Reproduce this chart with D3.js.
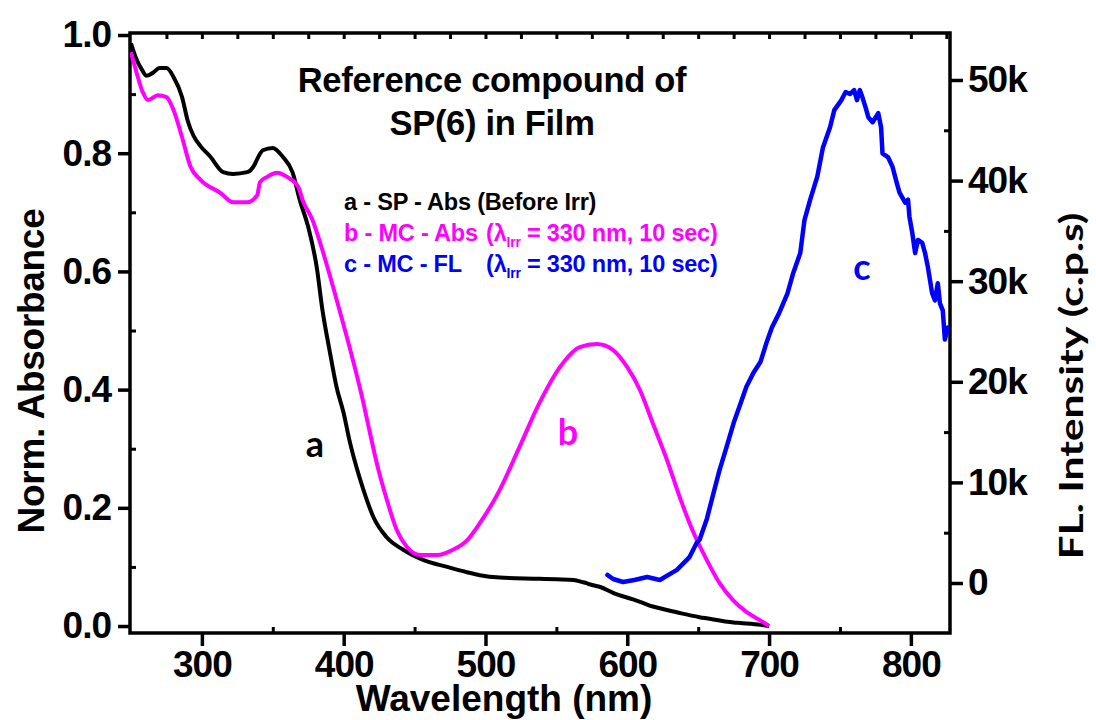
<!DOCTYPE html>
<html>
<head>
<meta charset="utf-8">
<script src="https://cdn.jsdelivr.net/npm/d3@7/dist/d3.min.js"></script>
<style>
  html, body { margin: 0; padding: 0; background: #fff; }
  svg { display: block; }
  .lab { font-family: "Liberation Sans", Arial, sans-serif; font-weight: bold; }
  .cal { font-family: Lato, "Open Sans", sans-serif; font-weight: 700; }
</style>
</head>
<body>
<svg id="chart" width="1096" height="720"></svg>
<script>
// ---- Data ----
// a - SP - Abs (Before Irr)
const aWavelength = [250,254,258,261,266,270,275,280,286,290,294,299,306,315,322,332,337,339,343,350,357,364,369,375,381,385,390,395,400,404,409,414,421,430,442,456,473,487,496,510,538,550,562,569,576,581,590,604,609,618,623,637,651,656,675,680,694,700];
const aAbs = [0.986,0.958,0.940,0.931,0.937,0.944,0.944,0.929,0.895,0.855,0.830,0.812,0.794,0.768,0.765,0.768,0.780,0.790,0.805,0.809,0.794,0.767,0.721,0.675,0.607,0.535,0.467,0.404,0.360,0.315,0.269,0.230,0.184,0.151,0.129,0.112,0.100,0.091,0.086,0.082,0.080,0.079,0.078,0.074,0.069,0.066,0.056,0.045,0.041,0.033,0.030,0.022,0.015,0.013,0.006,0.005,0.002,0.000];

// b - MC - Abs (λirr = 330 nm, 10 sec)
const bWavelength = [250,254,258.5,262,269,275,280,286,292,299,313,322,332,339,341,346,353,360,368,371,378,385,392.5,399.5,406.5,413,418.5,424,430.5,437.5,444.5,454,466,477,487,496,510,524,538,552.5,566.5,578.5,590,600,609,618,628,637,646,656,665,674.5,684,693.5,700];
const bAbs = [0.971,0.936,0.902,0.890,0.898,0.895,0.873,0.827,0.777,0.755,0.733,0.717,0.717,0.729,0.751,0.760,0.767,0.760,0.743,0.721,0.687,0.636,0.574,0.513,0.450,0.387,0.327,0.269,0.213,0.162,0.134,0.120,0.120,0.129,0.145,0.174,0.230,0.303,0.377,0.438,0.472,0.477,0.467,0.438,0.399,0.343,0.281,0.218,0.162,0.112,0.073,0.044,0.024,0.010,0.000];

// c - MC - FL (λirr = 330 nm, 10 sec), c.p.s
const cWavelength = [586,590,597,605,614,623,635,642,644,649,651,656,660,665,670,675,680,684,689,694,698,702,707,713,717,722,725,729,734,738,743,746,751,754,757,760,762,764,766,768,770,773,777,779,780,784,787,790,792,796,798,799,801,803,805,808,810,812,815,817,819,820.5,822.5,824,826];
const cIntensity = [800,400,100,300,600,300,1300,2300,2600,4000,4300,6300,8500,11200,13500,15900,17900,19500,20900,22000,23800,25400,26800,28800,30800,32800,36100,38100,40400,43300,45300,47000,48000,48800,48600,49000,48000,49000,48200,47300,46300,45800,46700,45300,42700,42300,41400,39800,38800,37800,38100,36400,34800,32800,34100,33800,32800,31400,28800,28100,29800,27800,27100,24200,25400];

const xTicks = [300,400,500,600,700,800];
const xTickLabels = ["300","400","500","600","700","800"];
const yLeftTicks = [0,0.2,0.4,0.6,0.8,1.0];
const yLeftTickLabels = ["0.0","0.2","0.4","0.6","0.8","1.0"];
const yRightTicks = [0,10000,20000,30000,40000,50000];
const yRightTickLabels = ["0","10k","20k","30k","40k","50k"];

const titleLines = ["Reference compound of","SP(6) in Film"];

// ---- Layout ----
const svg = d3.select("#chart");
const L = 130, R = 950, T = 33, B = 633;

const x = d3.scaleLinear().domain([249.3, 827.6]).range([L, R]);
const yL = d3.scaleLinear().domain([-0.0118, 1.0034]).range([B, T]);
const yR = d3.scaleLinear().domain([-4970, 54670]).range([B, T]);

svg.append("rect").attr("width",1096).attr("height",720).attr("fill","#fff");

function styleAxis(g, w) {
  g.select(".domain").remove();
  g.selectAll(".tick line").attr("stroke","#000").attr("stroke-width", w);
}

// minor ticks (inward)
const gxm = svg.append("g").attr("transform",`translate(0,${B})`)
  .call(d3.axisBottom(x).tickValues([350,450,550,650,750]).tickSize(-6).tickFormat(""));
styleAxis(gxm, 3);
const gxt = svg.append("g").attr("transform",`translate(0,${T})`)
  .call(d3.axisTop(x).tickValues(d3.range(275, 826, 25)).tickSize(-6).tickFormat(""));
styleAxis(gxt, 3);
const gylm = svg.append("g").attr("transform",`translate(${L},0)`)
  .call(d3.axisLeft(yL).tickValues([0.1,0.3,0.5,0.7,0.9]).tickSize(-6).tickFormat(""));
styleAxis(gylm, 3);
const gyrm = svg.append("g").attr("transform",`translate(${R},0)`)
  .call(d3.axisRight(yR).tickValues([5000,15000,25000,35000,45000]).tickSize(-6).tickFormat(""));
styleAxis(gyrm, 3);

// major axes
const gx = svg.append("g").attr("transform",`translate(0,${B})`)
  .call(d3.axisBottom(x).tickValues(xTicks).tickSize(13).tickPadding(4).tickFormat((d,i)=>xTickLabels[i]));
styleAxis(gx, 3.5);
gx.selectAll(".tick text").attr("class","lab").attr("font-size",37).attr("fill","#000").attr("letter-spacing",-1).attr("dy","0.72em");

const gyl = svg.append("g").attr("transform",`translate(${L},0)`)
  .call(d3.axisLeft(yL).tickValues(yLeftTicks).tickSize(12).tickPadding(7).tickFormat((d,i)=>yLeftTickLabels[i]));
styleAxis(gyl, 3.5);
gyl.selectAll(".tick text").attr("class","lab").attr("font-size",37).attr("fill","#000").attr("letter-spacing",-1);

const gyr = svg.append("g").attr("transform",`translate(${R},0)`)
  .call(d3.axisRight(yR).tickValues(yRightTicks).tickSize(13).tickPadding(5).tickFormat((d,i)=>yRightTickLabels[i]));
styleAxis(gyr, 3.5);
gyr.selectAll(".tick text").attr("class","lab").attr("font-size",37).attr("fill","#000").attr("letter-spacing",-1);

// frame
svg.append("rect").attr("x",L).attr("y",T).attr("width",R-L).attr("height",B-T)
  .attr("fill","none").attr("stroke","#000").attr("stroke-width",3.5);

// curves
svg.append("clipPath").attr("id","pc").append("rect")
  .attr("x",L).attr("y",T).attr("width",R-L).attr("height",B-T);

const lineA = d3.line().x((d,i)=>x(aWavelength[i])).y(d=>yL(d)).curve(d3.curveMonotoneX);
const lineB = d3.line().x((d,i)=>x(bWavelength[i])).y(d=>yL(d)).curve(d3.curveMonotoneX);
const lineC = d3.line().x((d,i)=>x(cWavelength[i])).y(d=>yR(d)).curve(d3.curveLinear);

svg.append("path").attr("d", lineA(aAbs)).attr("fill","none").attr("stroke","#000")
  .attr("stroke-width",4).attr("stroke-linejoin","round").attr("clip-path","url(#pc)");
svg.append("path").attr("d", lineB(bAbs)).attr("fill","none").attr("stroke","#ff00ff")
  .attr("stroke-width",4).attr("stroke-linejoin","round").attr("clip-path","url(#pc)");
svg.append("path").attr("d", lineC(cIntensity)).attr("fill","none").attr("stroke","#0000ff")
  .attr("stroke-width",4.5).attr("stroke-linejoin","round").attr("stroke-linecap","round").attr("clip-path","url(#pc)");

// title
titleLines.forEach((t,i)=>{
  svg.append("text").attr("class","lab").attr("x",492).attr("y",92 + i*43)
    .attr("text-anchor","middle").attr("font-size",34.5).attr("letter-spacing",-0.3).attr("fill","#000").text(t);
});

// legend
const legend = [
  {c:"#000", pre:"a - SP - Abs (Before Irr)", y:210, lam:false},
  {c:"#ff00ff", pre:"b - MC - Abs", y:241, lam:true},
  {c:"#0000ff", pre:"c - MC - FL", y:272, lam:true}
];
legend.forEach(l=>{
  const t = svg.append("text").attr("class","lab").attr("x",344).attr("y",l.y)
    .attr("font-size",23.5).attr("letter-spacing",-0.2).attr("fill",l.c);
  t.append("tspan").text(l.pre);
  if (l.lam) {
    t.append("tspan").attr("x",486).text("(λ");
    t.append("tspan").attr("font-size",14).attr("dy",6).text("Irr");
    t.append("tspan").attr("dy",-6).text(" = 330 nm, 10 sec)");
  }
});

// curve labels
svg.append("text").attr("class","cal").attr("x",315).attr("y",457).attr("text-anchor","middle")
  .attr("font-size",36).attr("fill","#000").text("a");
svg.append("text").attr("class","cal").attr("x",568).attr("y",445).attr("text-anchor","middle")
  .attr("font-size",36).attr("fill","#ff00ff").text("b");
svg.append("text").attr("class","cal").attr("x",862).attr("y",280).attr("text-anchor","middle")
  .attr("font-size",36).attr("fill","#0000ff").text("c");

// axis titles
svg.append("text").attr("class","lab").attr("transform","translate(44,371) rotate(-90)")
  .attr("text-anchor","middle").attr("font-size",37).attr("letter-spacing",-0.3).attr("fill","#000").text("Norm. Absorbance");
svg.append("text").attr("class","lab").attr("x",504).attr("y",711)
  .attr("text-anchor","middle").attr("font-size",37).attr("letter-spacing",0).attr("fill","#000").text("Wavelength (nm)");
svg.append("text").attr("class","cal").attr("transform","translate(1083,386) rotate(-90)")
  .attr("text-anchor","middle").attr("font-size",33).attr("fill","#000")
  .attr("textLength",347).attr("lengthAdjust","spacingAndGlyphs").text("FL. Intensity (c.p.s)");
</script>
</body>
</html>
